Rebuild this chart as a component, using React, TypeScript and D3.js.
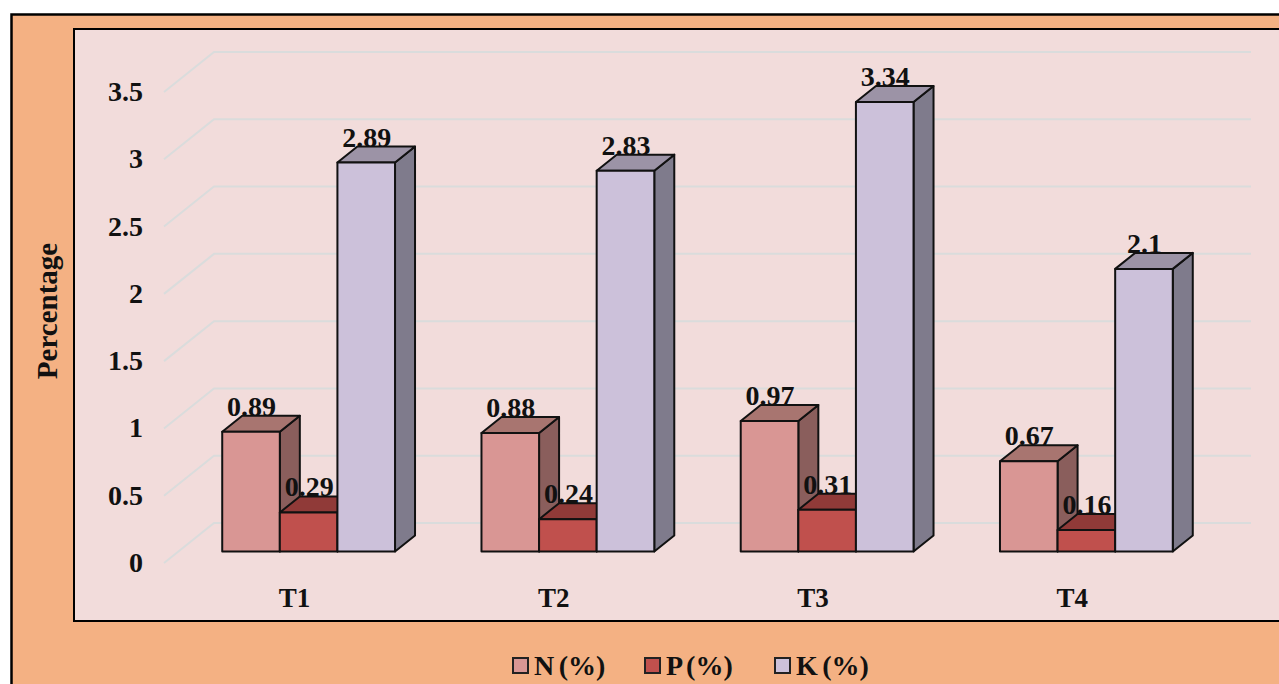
import React from "react";
import * as d3 from "d3";

// Nutrient content per treatment
const categories = ["T1", "T2", "T3", "T4"];
const nValues = [0.89, 0.88, 0.97, 0.67];
const pValues = [0.29, 0.24, 0.31, 0.16];
const kValues = [2.89, 2.83, 3.34, 2.1];
const yTicks = [0, 0.5, 1, 1.5, 2, 2.5, 3, 3.5];
const seriesNames = ["N (%)", "P (%)", "K (%)"];

const WIDTH = 1279;
const HEIGHT = 684;
const FONT = "'Liberation Serif', 'Times New Roman', serif";

const palette = [
  { front: "#D99694", top: "#A87570", side: "#8A5E5C" },
  { front: "#C0504D", top: "#903A38", side: "#7A3331" },
  { front: "#CCC1DA", top: "#9C93A6", side: "#7F7B8C" },
];

// Floor of the 3D plot: front edge and the offset to its back edge
const floorLeft = 164;
const floorRight = 1201;
const wallDx = 50;
const wallDy = 40;
const gridRight = 1251;
// Bars stand partway into the floor, and have their own shallower depth
const barInsetX = 15;
const barInsetY = 11.5;
const barDx = 20;
const barDy = 16;
const barWidth = 57.6;

const x = d3.scaleBand<string>().domain(categories).range([floorLeft, floorRight]);
const y = d3.scaleLinear().domain([0, 3.5]).range([563, 92]);

const pts = (p: [number, number][]) => p.map((c) => c.join(",")).join(" ");

function Bar({ cx, value, colors }: { cx: number; value: number; colors: (typeof palette)[number] }) {
  const l = cx - barWidth / 2;
  const r = cx + barWidth / 2;
  const top = y(value) - barInsetY;
  const base = y(0) - barInsetY;
  const stroke = { stroke: "#111", strokeWidth: 2, strokeLinejoin: "round" as const };
  return (
    <g>
      <polygon
        points={pts([[r, top], [r + barDx, top - barDy], [r + barDx, base - barDy], [r, base]])}
        fill={colors.side}
        {...stroke}
      />
      <polygon
        points={pts([[l, top], [l + barDx, top - barDy], [r + barDx, top - barDy], [r, top]])}
        fill={colors.top}
        {...stroke}
      />
      <rect x={l} y={top} width={barWidth} height={base - top} fill={colors.front} {...stroke} />
    </g>
  );
}

export default function App() {
  const series = [nValues, pValues, kValues];
  const legendSwatchX = [513, 645, 775];
  const legendTextX = [534, 666, 796];
  const barCenter = (cat: string, s: number) =>
    (x(cat) as number) + x.bandwidth() / 2 + barInsetX + (s - 1) * barWidth;

  return (
    <svg
      width={WIDTH}
      height={HEIGHT}
      style={{ position: "absolute", left: 0, top: 0, display: "block", background: "#fff" }}
      fontFamily={FONT}
      fontWeight={700}
      fill="#111"
    >
      {/* Outer chart area; its right and bottom edges run past the frame */}
      <rect x={11.5} y={14.5} width={WIDTH + 20} height={HEIGHT + 20} fill="#F4B183" stroke="#000" strokeWidth={2.5} />
      {/* Plot area */}
      <rect x={74} y={29} width={WIDTH + 20} height={592} fill="#F2DCDB" stroke="#000" strokeWidth={2} />

      {/* Gridlines across the side wall and back wall */}
      {yTicks.map((t) => (
        <polyline
          key={t}
          points={pts([
            [floorLeft, y(t)],
            [floorLeft + wallDx, y(t) - wallDy],
            [gridRight, y(t) - wallDy],
          ])}
          fill="none"
          stroke="#DADCDC"
          strokeWidth={2}
        />
      ))}

      {/* Value axis labels */}
      {yTicks.map((t) => (
        <text key={t} x={143} y={y(t) + 9} textAnchor="end" fontSize={28}>
          {t}
        </text>
      ))}
      <text
        transform="translate(57,311) rotate(-90)"
        textAnchor="middle"
        fontSize={29}
      >
        Percentage
      </text>

      {/* Bars, drawn left to right so each one overlaps the previous side face */}
      {categories.map((cat, i) => (
        <g key={cat}>
          {series.map((vals, s) => (
            <Bar key={s} cx={barCenter(cat, s)} value={vals[i]} colors={palette[s]} />
          ))}
        </g>
      ))}

      {/* Data labels */}
      {categories.map((cat, i) =>
        series.map((vals, s) => (
          <text
            key={`${cat}-${s}`}
            x={barCenter(cat, s) + 0.5}
            y={y(vals[i]) - barInsetY - barDy}
            textAnchor="middle"
            fontSize={28}
          >
            {vals[i]}
          </text>
        )),
      )}

      {/* Category labels */}
      {categories.map((cat) => (
        <text key={cat} x={(x(cat) as number) + x.bandwidth() / 2 + 1} y={607} textAnchor="middle" fontSize={27}>
          {cat}
        </text>
      ))}

      {/* Legend */}
      {seriesNames.map((name, s) => (
        <g key={name}>
          <rect
            x={legendSwatchX[s]}
            y={658}
            width={15}
            height={15}
            fill={palette[s].front}
            stroke="#222"
            strokeWidth={2}
          />
          <text x={legendTextX[s]} y={675} fontSize={28} wordSpacing={-2.5}>
            {name}
          </text>
        </g>
      ))}
    </svg>
  );
}
